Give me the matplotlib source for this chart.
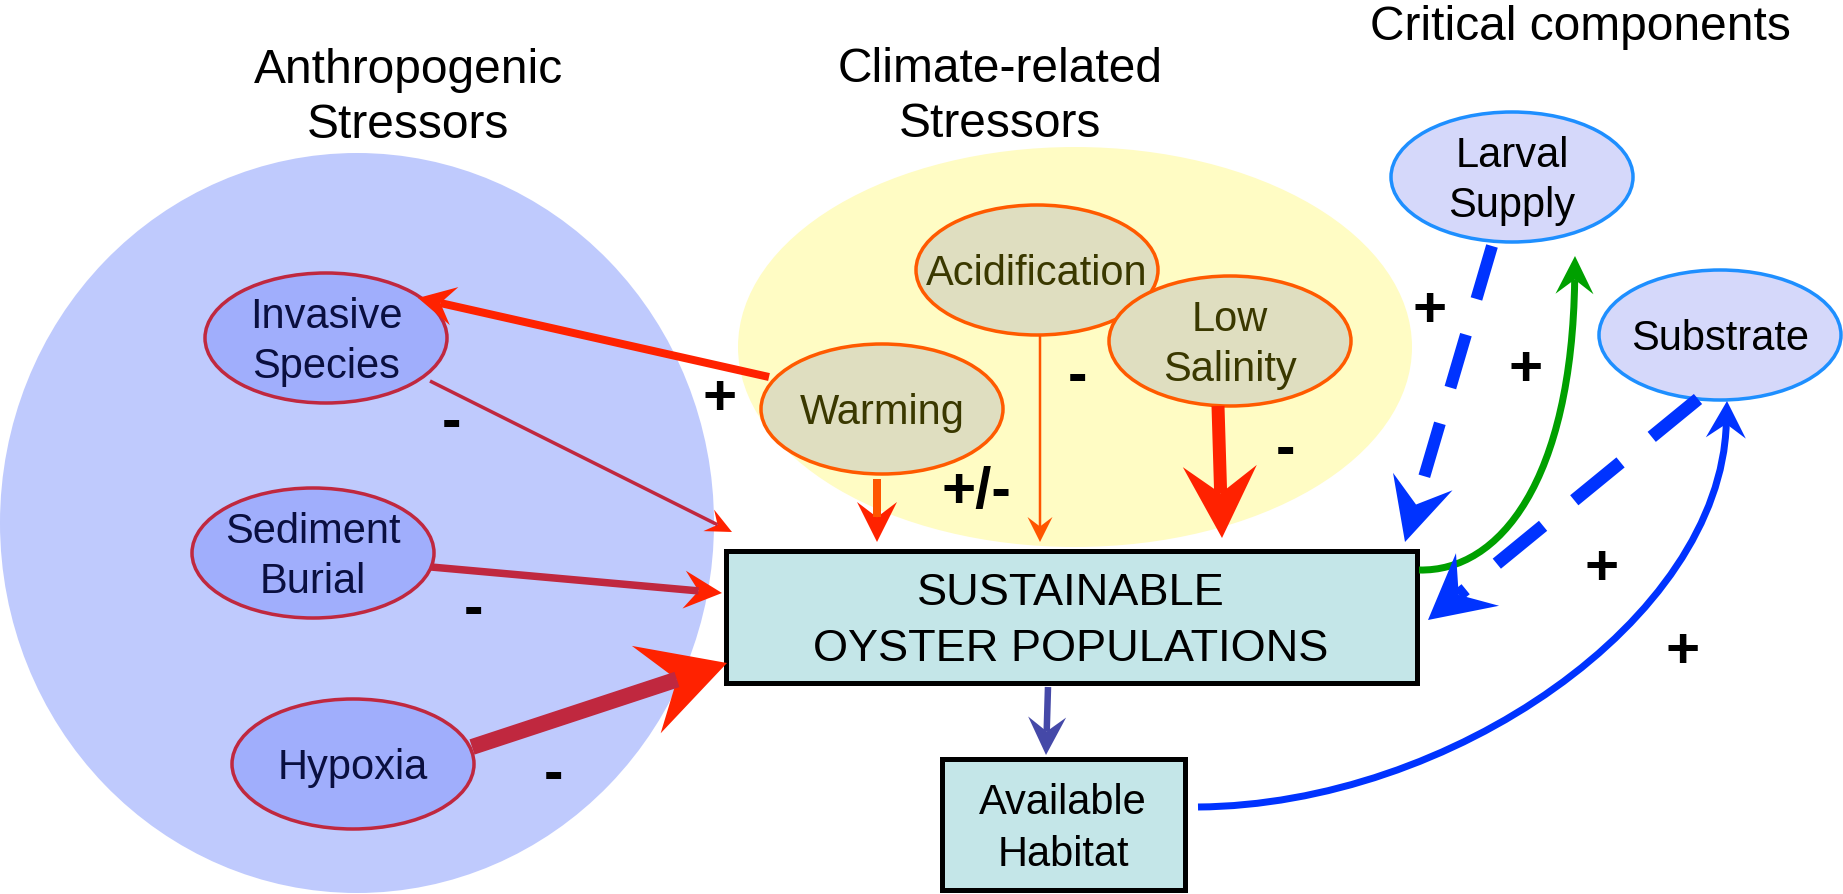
import numpy as np
import matplotlib.pyplot as plt
from matplotlib.patches import Ellipse, Rectangle, Polygon, PathPatch
from matplotlib.path import Path

plt.rcParams['font.family'] = ['Liberation Sans', 'DejaVu Sans']

W, H = 1843, 894
PT = 0.72  # points per pixel at 100 dpi

# --- diagram content ---
group_titles = ['Anthropogenic\nStressors', 'Climate-related\nStressors', 'Critical components']
anthropogenic = ['Invasive\nSpecies', 'Sediment\nBurial', 'Hypoxia']
climate = ['Acidification', 'Warming', 'Low\nSalinity']
critical = ['Larval\nSupply', 'Substrate']
outcome = 'SUSTAINABLE\nOYSTER POPULATIONS'
habitat = 'Available\nHabitat'

link_src = ['Warming', 'Invasive\nSpecies', 'Sediment\nBurial', 'Hypoxia', 'Warming',
            'Acidification', 'Low\nSalinity', 'Larval\nSupply', outcome, 'Substrate',
            habitat, outcome]
link_dst = ['Invasive\nSpecies', outcome, outcome, outcome, outcome,
            outcome, outcome, outcome, 'Larval\nSupply', outcome,
            'Substrate', habitat]
link_sign = ['+', '-', '-', '-', '+/-', '-', '-', '+', '+', '+', '+', '']

# --- layout (pixels, y down) ---
title_xy = [(408, 83), (1000, 82), (1580, 40)]
node_xy = {
    'Invasive\nSpecies': (326, 338), 'Sediment\nBurial': (313, 553), 'Hypoxia': (353, 764),
    'Acidification': (1037, 270), 'Warming': (882, 409), 'Low\nSalinity': (1230, 341),
    'Larval\nSupply': (1512, 177), 'Substrate': (1720, 335),
}
box_xy = {outcome: (726, 551, 1417, 683), habitat: (942, 759, 1185, 890)}

# start, tip, head length, head half width, shaft px, shaft colour, head colour, style, controls
arrows = [
    ((769, 377), (418, 298), 37, 19.5, 8, '#FF2200', '#FF2200', 'solid', None),
    ((430, 381), (732, 532), 26, 12, 3.5, '#C0283F', '#FF2200', 'solid', None),
    ((431, 567), (722, 593), 38, 19, 7.5, '#C0283F', '#FF2200', 'solid', None),
    ((472, 747), (727, 663), 85, 46, 16, '#C0283F', '#FF2200', 'solid', None),
    ((877, 479), (877, 542), 40, 20, 8, '#FF5500', '#FF2200', 'solid', None),
    ((1040, 335), (1040, 542), 25, 12.5, 2.5, '#FF5500', '#FF5500', 'solid', None),
    ((1218, 406), (1222, 538), 72, 37, 13, '#FF2200', '#FF2200', 'solid', None),
    ((1492, 246), (1405, 542), 63, 31, 12, '#0033FF', '#0033FF', 'dashed', None),
    ((1419, 570), (1575, 256), 38, 19, 7, '#00A000', '#00A000', 'solid', [(1500, 572), (1572, 480)]),
    ((1698, 399), (1428, 620), 64, 34, 13, '#0033FF', '#0033FF', 'dashed', None),
    ((1198, 807), (1727, 401), 37, 20, 7, '#0033FF', '#0033FF', 'solid', [(1450, 805), (1720, 620)]),
    ((1048, 687), (1046, 755), 38, 19, 6.5, '#4549A8', '#4549A8', 'solid', None),
]
sign_xy = [(720, 400), (451, 424), (474, 611), (554, 776), (976, 493), (1077, 378),
           (1285, 451), (1430, 312), (1526, 371), (1602, 570), (1683, 653), None]


def draw_lines(ax, text, cx, cy, size, spacing, color):
    lines = text.split('\n')
    cap = 0.716 * size / PT
    for i, line in enumerate(lines):
        base = cy + (i - (len(lines) - 1) / 2) * spacing + cap / 2
        ax.text(cx, base, line, ha='center', va='baseline', fontsize=size, color=color, zorder=10)


def arrow_head(ax, tip, d, L, hw, color, notch=0.62, z=6):
    tip = np.asarray(tip, float)
    d = np.asarray(d, float)
    d = d / np.hypot(*d)
    n = np.array([-d[1], d[0]])
    base = tip - L * d
    pts = [tip, base + hw * n, tip - notch * L * d, base - hw * n]
    ax.add_patch(Polygon(pts, closed=True, fc=color, ec='none', zorder=z))
    return tip - notch * L * d


fig = plt.figure(figsize=(W / 100, H / 100), dpi=100)
ax = fig.add_axes([0, 0, 1, 1])
ax.set_xlim(0, W)
ax.set_ylim(H, 0)
ax.axis('off')

# background groups
ax.add_patch(Ellipse((357, 523), 714, 740, fc='#BFCAFD', ec='none', zorder=0))
ax.add_patch(Ellipse((1075, 347), 674, 400, fc='#FFFCC4', ec='none', zorder=0))

for t, (x, y) in zip(group_titles, title_xy):
    for i, line in enumerate(t.split('\n')):
        ax.text(x, y + i * 55, line, ha='center', va='baseline', fontsize=34.5, color='black')

# nodes
styles = {}
for name in anthropogenic:
    styles[name] = ('#A0AEFC', '#C0283F', '#0A0F40')
for name in climate:
    styles[name] = ('#DFDEC0', '#FF5A00', '#3A3800')
for name in critical:
    styles[name] = ('#D5D8FA', '#1E8FFF', 'black')

order = ['Invasive\nSpecies', 'Sediment\nBurial', 'Hypoxia', 'Warming', 'Acidification',
         'Low\nSalinity', 'Larval\nSupply', 'Substrate']
for k, name in enumerate(order):
    fc, ec, tc = styles[name]
    cx, cy = node_xy[name]
    ax.add_patch(Ellipse((cx, cy), 242, 130, fc=fc, ec=ec, lw=3.5 * PT, zorder=3 + k * 0.01))
    draw_lines(ax, name, cx, cy, 30, 50, tc)

for name, (x0, y0, x1, y1) in box_xy.items():
    ax.add_patch(Rectangle((x0, y0), x1 - x0, y1 - y0, fc='#C4E6E8', ec='black',
                           lw=5 * PT, zorder=4))
draw_lines(ax, outcome, 1071, 617, 32.5, 56, 'black')
draw_lines(ax, habitat, 1063, 825, 30, 52, 'black')

# links
for (start, tip, L, hw, lw, sc, hc, style, ctrl) in arrows:
    if ctrl is None:
        d = np.subtract(tip, start)
        stop = arrow_head(ax, tip, d, L, hw, hc)
        ls = (0, (4.6, 3.1)) if style == 'dashed' else '-'
        z = 5 if style == 'dashed' else 7
        ax.plot([start[0], stop[0]], [start[1], stop[1]], color=sc, lw=lw * PT,
                ls=ls, solid_capstyle='butt', dash_capstyle='butt', zorder=z)
    else:
        d = np.subtract(tip, ctrl[1])
        stop = arrow_head(ax, tip, d, L, hw, hc)
        path = Path([start, ctrl[0], ctrl[1], tuple(stop)],
                    [Path.MOVETO, Path.CURVE4, Path.CURVE4, Path.CURVE4])
        ax.add_patch(PathPatch(path, fc='none', ec=sc, lw=lw * PT, capstyle='butt', zorder=5))

for s, xy in zip(link_sign, sign_xy):
    if s and xy:
        ax.text(xy[0], xy[1], s, ha='center', va='center', fontsize=42,
                fontweight='bold', color='black', zorder=10)

fig.savefig('out.png', dpi=100)
